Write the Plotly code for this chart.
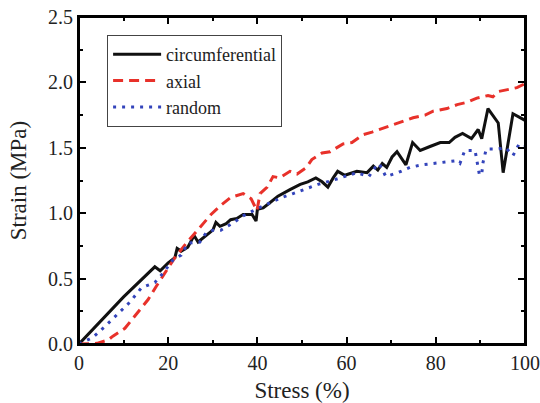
import plotly.graph_objects as go

circ_x = [0, 5, 10, 17, 18.2, 20, 21.5, 22, 22.9, 24.4, 25.8, 26.7, 28.5, 30, 30.7, 31.6, 33, 34, 35.4,
          36.8, 38.8, 39.7, 40, 41.3, 42.8, 44.6, 47.3, 49.6, 51.3, 53.1, 54.5, 55.8, 57, 58, 59.6, 62.3,
          64.6, 66, 67, 68, 69, 70.2, 71.3, 73.3, 74.8, 76.5, 78.7, 81, 83, 84.3, 86, 88, 89.5, 90.3,
          91.7, 94, 95.1, 97.3, 100]
circ_y = [0, 0.18, 0.36, 0.59, 0.56, 0.62, 0.66, 0.73, 0.71, 0.74, 0.83, 0.78, 0.83, 0.87, 0.93, 0.90, 0.92,
          0.95, 0.96, 0.99, 0.99, 0.94, 1.03, 1.04, 1.08, 1.13, 1.18, 1.22, 1.24, 1.27, 1.24, 1.20, 1.27, 1.32,
          1.29, 1.32, 1.31, 1.36, 1.33, 1.38, 1.35, 1.43, 1.47, 1.37, 1.54, 1.48, 1.51, 1.54, 1.54, 1.58,
          1.61, 1.57, 1.64, 1.57, 1.80, 1.69, 1.31, 1.76, 1.71]

axial_x = [0, 2, 4, 6.5, 7.6, 10.3, 11.7, 14, 15.5, 17.3, 19.2, 21.5, 23.8, 25.6, 27.8, 29.6, 31.8, 34, 36.8,
           38.6, 39.9, 40.6, 42.2, 43.5, 45, 47.3, 48.9, 51, 52.2, 54.5, 56.3, 59.2, 61.2, 63.7, 65.7, 68.2,
           70.2, 73.1, 74.9, 77.6, 79.4, 82.5, 84.8, 87.2, 89.2, 91.7, 92.8, 94, 96.6, 98.2, 100]
axial_y = [0, 0, 0.005, 0.03, 0.06, 0.12, 0.18, 0.27, 0.34, 0.44, 0.54, 0.66, 0.76, 0.83, 0.92, 0.99, 1.06,
           1.12, 1.15, 1.11, 1.02, 1.15, 1.20, 1.28, 1.27, 1.32, 1.30, 1.35, 1.41, 1.46, 1.47, 1.53, 1.54,
           1.60, 1.62, 1.65, 1.67, 1.71, 1.73, 1.75, 1.78, 1.80, 1.83, 1.85, 1.88, 1.90, 1.89, 1.93, 1.95,
           1.96, 1.99]

random_x = [0, 3.1, 6, 8.7, 11.4, 14, 17, 18.8, 21, 22.9, 24.4, 27.1, 28.5, 30, 31.8, 34.3, 36.8, 39.7, 42.4,
            45.5, 48, 51, 53.6, 56.7, 59.6, 62.3, 65, 66.4, 67.3, 68.8, 71.5, 74.2, 76.9, 79.4, 82, 84.3,
            85.4, 86.5, 88.8, 89.3, 89.8, 90.3, 90.6, 91.3, 93.7, 95.7, 97.3, 98.7, 100]
random_y = [0, 0.05, 0.14, 0.23, 0.32, 0.43, 0.47, 0.54, 0.64, 0.68, 0.77, 0.78, 0.85, 0.87, 0.87, 0.92,
            0.98, 1.03, 1.07, 1.12, 1.15, 1.19, 1.22, 1.25, 1.28, 1.31, 1.28, 1.35, 1.38, 1.28, 1.31, 1.35,
            1.37, 1.38, 1.39, 1.40, 1.38, 1.48, 1.48, 1.38, 1.29, 1.30, 1.39, 1.49, 1.49, 1.50, 1.44, 1.53,
            1.52]

x_ticks = [0, 20, 40, 60, 80, 100]
y_ticks = [0.0, 0.5, 1.0, 1.5, 2.0, 2.5]

FONT = "Liberation Serif"

fig = go.Figure()
fig.add_trace(go.Scatter(x=circ_x, y=circ_y, mode="lines", name="circumferential",
                         line=dict(color="#111111", width=3)))
fig.add_trace(go.Scatter(x=axial_x, y=axial_y, mode="lines", name="axial",
                         line=dict(color="#e8312a", width=3, dash="10px,6px")))
fig.add_trace(go.Scatter(x=random_x, y=random_y, mode="lines", name="random",
                         line=dict(color="#3344bb", width=3, dash="3px,6px")))

axis_common = dict(
    showgrid=False, zeroline=False, showline=True, linecolor="black", linewidth=2,
    mirror="allticks", ticks="inside", ticklen=7, tickwidth=2, tickcolor="black",
    tickfont=dict(family=FONT, size=20, color="#222"), automargin=False,
)

fig.update_xaxes(**axis_common, range=[0, 100], tickvals=x_ticks,
                 minor=dict(ticks="inside", ticklen=4, tickwidth=1.5, dtick=10, tickcolor="black"),
                 title=dict(text="Stress (%)", font=dict(family=FONT, size=23, color="#222")))
fig.update_yaxes(**axis_common, range=[0, 2.5], tickvals=y_ticks, tickformat=".1f",
                 minor=dict(ticks="inside", ticklen=4, tickwidth=1.5, dtick=0.25, tickcolor="black"),
                 title=dict(text="Strain (MPa)", font=dict(family=FONT, size=23, color="#222")))

# plot frame (paper-referenced, encloses the whole plotting area)
fig.add_shape(type="rect", xref="paper", yref="paper", x0=0, x1=1, y0=0, y1=1,
              line=dict(color="black", width=2), fillcolor="rgba(0,0,0,0)", layer="above")

fig.update_layout(
    width=540, height=403,
    margin=dict(l=79, r=15, t=17, b=59),
    plot_bgcolor="white", paper_bgcolor="white",
    font=dict(family=FONT),
    showlegend=True,
    legend=dict(x=0.063, y=0.945, xanchor="left", yanchor="top",
                bordercolor="#444", borderwidth=1, bgcolor="white",
                font=dict(family=FONT, size=18, color="#222"),
                tracegroupgap=0, itemwidth=48),
)

fig.write_html("out.html", config={"displayModeBar": False},
               post_script="document.body.style.margin='0';document.body.style.overflow='hidden';")
